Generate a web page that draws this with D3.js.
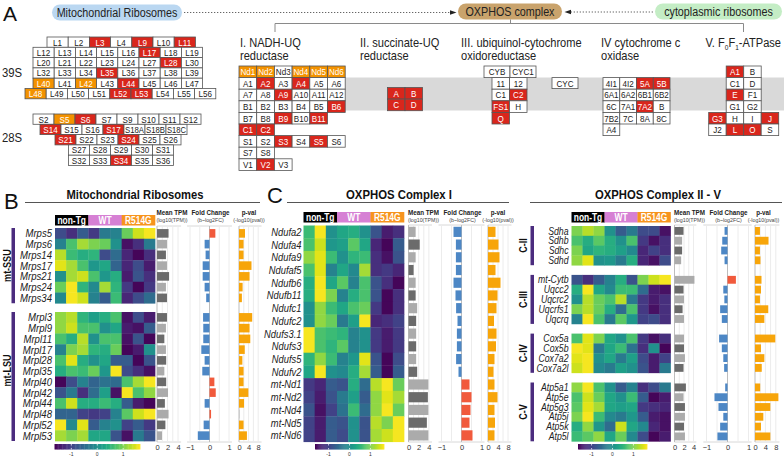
<!DOCTYPE html>
<html><head><meta charset="utf-8">
<script src="https://cdn.jsdelivr.net/npm/d3@7"></script>
<style>body{margin:0;background:#fff}svg{display:block}</style>
</head><body>
<script>
// ================= DATA =================
// Panel A: subunit grids
const ribo39S=[["L1","L2","L3","L4","L9","L10","L11"],["L12","L13","L14","L15","L16","L17","L18","L19"],["L20","L21","L22","L23","L24","L27","L28","L30"],["L32","L33","L34","L35","L36","L37","L38","L39"],["L40","L41","L42","L43","L44","L45","L46","L47"],["L48","L49","L50","L51","L52","L53","L54","L55","L56"]];
const red39S=["L3","L9","L11","L17","L28","L35","L44","L52","L53"];
const orange39S=["L40","L42","L48"];
const ribo28S=[["S2","S5","S6","S7","S9","S10","S11","S12"],["S14","S15","S16","S17","S18A","S18B","S18C"],["S21","S22","S23","S24","S25","S26"],["S27","S28","S29","S30","S31"],["S32","S33","S34","S35","S36"]];
const red28S=["S6","S14","S17","S21","S24","S34"];
const orange28S=["S5"];
const cx1=[["Nd1","Nd2","Nd3","Nd4","Nd5","Nd6"],["A1","A2","A3","A4","A5","A6"],["A7","A8","A9","A10","A11","A12"],["B1","B2","B3","B4","B5","B6"],["B7","B8","B9","B10","B11"],["C1","C2"],["S1","S2","S3","S4","S5","S6"],["S7","S8"],["V1","V2","V3"]];
const redCx1=["A2","A4","A9","B6","B9","B11","C1","C2","S3","S5","V2"];
const orangeCx1=["Nd1","Nd2","Nd4","Nd5","Nd6"];
const cx2=[["A","B"],["C","D"]];
const redCx2=["A","B","C","D"];
const cx3=[["CYB","CYC1"],["11","12"],["C1","C2"],["FS1","H"],["Q"]];
const redCx3=["C2","FS1","Q"];
const cycBox=[["CYC"]];
const cx4=[["4I1","4I2","5A","5B"],["6A1","6A2","6B1","6B2"],["6C","7A1","7A2","B"],["7B2","7C","8A","8C"],["A4"]];
const redCx4=["5A","5B","7A2"];
const cx5=[["A1","B"],["C1","D"],["E","F1"],["G1","G2"],["G3","H","I","J"],["J2","L","O","S"]];
const redCx5=["A1","E","G3","J","L","O"];

// Heatmap column groups and ticks
const conditions=["non-Tg","WT","R514G"];
const tpmTicks=[0,2,4], fcTicks=[-1,0,1], pTicks=[0,4,8], zTicks=[-1,0,1];

// Panel B
const ssuGenes=["Mrps5","Mrps6","Mrps14","Mrps17","Mrps21","Mrps24","Mrps34"];
const ssuZ=[[-0.9,-1.2,-0.7,-1.1,-0.3,-0.2,0.9,1.4,1.6],[-0.2,0.7,1.2,1.0,0.9,0.0,-1.5,-1.2,-0.3],[1.3,0.6,0.4,0.5,-0.9,-0.5,-1.3,-1.6,-1.2],[1.5,1.2,0.7,0.1,0.3,-0.6,-1.3,-0.9,-1.4],[0.0,1.2,1.4,0.7,0.1,0.4,-1.4,-0.8,-1.2],[0.9,1.6,0.5,-0.1,1.2,0.5,-1.1,-1.6,-1.1],[-0.1,1.6,1.4,-0.2,-0.7,0.6,-1.3,-0.9,-0.5]];
const ssuTPM=[2.2,1.9,1.7,1.9,2.3,1.7,1.9];
const ssuFC=[0.3,-0.25,-0.2,-0.35,-0.35,-0.25,-0.17];
const ssuP=[2.5,1.9,1.9,5.2,4.4,1.5,1.2];
const lsuGenes=["Mrpl3","Mrpl9","Mrpl11","Mrpl17","Mrpl28","Mrpl35","Mrpl40","Mrpl42","Mrpl44","Mrpl48","Mrpl52","Mrpl53"];
const lsuZ=[[1.1,1.3,0.5,0.2,0.4,0.7,-1.5,-0.9,-1.4],[1.1,1.4,0.7,0.7,0.0,0.3,-1.4,-1.5,-0.7],[0.7,0.4,1.3,0.0,0.7,0.7,-1.5,-0.8,-1.6],[-0.2,1.0,1.2,0.5,0.4,0.9,-1.6,-1.4,0.0],[0.7,1.5,0.4,0.0,0.3,-0.7,-0.7,-1.6,-0.8],[0.4,0.7,0.6,0.9,0.1,1.6,-0.9,-1.2,-1.5],[-1.6,-0.9,-0.2,-0.6,-0.4,-0.5,0.7,1.2,1.6],[-0.8,-0.3,-1.2,-0.5,0.2,-1.5,1.6,0.7,1.1],[0.7,1.4,0.4,0.4,0.6,0.4,-0.7,-1.4,-1.6],[-0.6,-0.6,-1.0,-1.1,-1.0,-0.2,0.8,1.4,1.6],[1.6,-0.1,1.5,-0.7,-0.2,0.0,-1.0,-0.7,-1.1],[1.2,1.0,1.2,0.3,0.3,-0.8,-1.5,-0.3,-0.8]];
const lsuTPM=[1.9,1.7,1.4,1.7,1.75,1.4,1.75,2.1,1.5,2.2,1.6,0.95];
const lsuFC=[-0.33,-0.32,-0.32,-0.42,-0.25,-0.37,0.25,0.32,-0.25,0.08,-0.3,-0.6];
const lsuP=[5.5,4.4,4.7,2.4,1.4,1.9,1.9,3.9,2.1,0.3,1.9,3.3];

// Panel C, complex I
const c1Genes=["Ndufa2","Ndufa4","Ndufa9","Ndufaf5","Ndufb6","Ndufb11","Ndufc1","Ndufc2","Ndufs3.1","Ndufs3","Ndufs5","Ndufv2","mt-Nd1","mt-Nd2","mt-Nd4","mt-Nd5","mt-Nd6"];
const c1Z=[[0.6,1.6,0.0,0.3,0.4,0.0,-0.8,-1.4,-1.2],[0.7,1.4,0.1,0.2,0.8,0.3,-1.3,-1.6,-0.7],[1.1,1.5,0.6,0.0,0.5,0.6,-1.2,-1.5,-0.8],[0.7,1.5,-0.2,0.3,-0.1,1.2,-1.2,-1.1,-1.3],[0.4,1.6,0.3,0.8,-0.2,0.7,-0.8,-1.2,-1.6],[0.4,1.6,1.0,-0.2,0.4,0.7,-0.8,-1.6,-1.2],[0.0,1.1,0.6,0.3,0.7,0.9,-1.1,-1.6,-1.2],[0.0,1.1,0.9,-0.3,0.2,1.6,-1.3,-1.2,-1.0],[1.6,0.7,0.6,0.5,-0.2,0.0,-1.1,-1.4,-1.1],[1.6,0.7,0.5,0.8,-0.2,0.0,-1.1,-1.4,-1.1],[0.5,1.1,0.6,-0.2,0.1,1.5,-0.8,-1.6,-0.9],[0.3,1.6,0.0,-0.1,0.4,1.2,-0.7,-1.6,-0.7],[-1.1,-1.3,-0.7,-0.8,0.4,-0.5,1.3,1.6,0.9],[-1.0,-1.4,-0.8,-0.3,0.2,-0.7,1.1,1.5,1.2],[-0.8,-1.5,-1.0,-0.4,0.6,-0.5,1.1,1.6,0.9],[-1.0,-1.4,-0.7,-0.8,0.0,-0.8,1.3,1.0,1.6],[-1.0,-1.4,-0.7,-0.9,0.0,-0.8,1.2,1.4,1.6]];
const c1TPM=[1.4,2.2,1.4,1.0,1.4,1.4,1.7,1.5,1.5,1.5,1.5,1.7,3.9,3.8,3.9,3.6,3.9];
const c1FC=[-0.4,-0.28,-0.28,-0.28,-0.4,-0.3,-0.27,-0.2,-0.23,-0.23,-0.27,-0.15,0.4,0.5,0.45,0.4,0.55];
const c1P=[3,4.2,4.6,3,5,3.8,3.4,2.4,3.4,3.2,2.6,2.2,2.6,3.8,2.6,2.8,2.6];

// Panel C, complexes II - V
const c2Genes=["Sdha","Sdhb","Sdhc","Sdhd"];
const c2Z=[[1.0,1.3,1.1,0.0,-0.7,-0.3,-0.9,-0.9,-1.5],[0.7,0.4,0.8,0.4,0.0,0.7,-1.1,-1.5,-1.2],[1.0,0.3,0.5,0.4,0.2,-0.1,-1.3,-1.0,-1.2],[1.1,1.5,0.0,0.1,-0.3,0.4,-1.3,-1.5,-0.9]];
const c2TPM=[1.9,1.6,1.6,1.4], c2FC=[-0.14,-0.25,-0.3,-0.14], c2P=[1.9,5.2,1.9,2.1];
const c3Genes=["mt-Cytb","Uqcc2","Uqcrc2","Uqcrfs1","Uqcrq"];
const c3Z=[[-0.8,-1.2,-0.7,-0.2,0.4,-0.8,1.0,1.4,1.6],[0.4,1.6,0.3,-0.1,0.6,0.6,-0.5,-1.4,-1.5],[0.0,1.3,0.9,0.7,1.3,-0.3,-1.1,-1.4,-1.2],[1.0,1.3,0.9,0.4,-0.5,0.7,-1.1,-1.5,-1.2],[-0.2,1.6,0.7,-0.3,0.8,0.1,-1.0,-0.9,-1.2]];
const c3TPM=[4.2,1.9,2.0,1.7,2.0], c3FC=[0.4,-0.2,-0.15,-0.35,-0.27], c3P=[2.5,2.3,1.9,5.1,3.6];
const c4Genes=["Cox5a","Cox5b","Cox7a2","Cox7a2l"];
const c4Z=[[0.7,1.5,1.0,0.3,0.0,0.7,-1.1,-1.5,-1.2],[1.6,1.5,-0.3,0.3,0.6,-0.4,-1.2,0.0,-1.6],[1.5,1.6,0.0,0.3,-0.3,0.2,-0.9,-1.4,-1.0],[1.4,1.6,-0.1,-0.3,0.2,0.0,-0.8,-1.4,-0.3]];
const c4TPM=[2.0,2.0,2.2,1.9], c4FC=[-0.4,-0.27,-0.2,-0.16], c4P=[7.8,2.3,3.6,2.6];
const c5Genes=["Atp5a1","Atp5e","Atp5g3","Atp5j","Atp5k","Atp5l"];
const c5Z=[[1.1,1.6,0.7,0.0,-0.7,-0.2,-1.2,-0.9,-0.3],[0.7,1.4,0.9,0.3,0.0,0.6,-0.7,-1.6,-1.4],[0.8,1.5,1.2,0.3,0.2,0.3,-1.1,-1.2,-1.3],[1.0,1.6,0.6,-0.1,-0.3,0.1,-0.7,-1.4,-1.5],[0.4,1.1,0.1,-0.5,1.4,0.3,-0.1,-1.3,-1.5],[0.6,0.8,1.1,0.3,0.9,-0.1,-0.9,-1.6,-1.4]];
const c5TPM=[2.4,1.9,2.2,2.2,2.0,2.2], c5FC=[-0.11,-0.62,-0.43,-0.2,-0.35,-0.48], c5P=[2.0,9.0,5.9,3.2,2.3,5.9];

// ================= DRAWING =================
const W=784,H=461;
const SANS="'Liberation Sans',Arial,sans-serif";
const RED="#d9261c", ORANGE="#f39200";
const svg=d3.select("body").append("svg").attr("width",W).attr("height",H).style("font-family",SANS);

// condense a text horizontally (imitates a narrow typeface)
function cond(t,f,maxW){
  const l=t.node().getComputedTextLength();
  let L=l*f; if(maxW&&L>maxW) L=maxW;
  return t.attr("textLength",L).attr("lengthAdjust","spacingAndGlyphs");
}

// ---------- Panel A ----------
svg.append("text").attr("x",3).attr("y",21).style("font-size","21px").attr("fill","#111").text("A");

function pill(x,y,w,h,fill,label){
  svg.append("rect").attr("x",x).attr("y",y).attr("width",w).attr("height",h).attr("rx",h/2).attr("fill",fill);
  cond(svg.append("text").attr("x",x+w/2).attr("y",y+h/2).attr("dy","0.36em").attr("text-anchor","middle")
    .style("font-size","12.5px").attr("fill","#222").text(label),0.86);
}
pill(52,4.5,130,16,"#bad7f1","Mitochondrial Ribosomes");
pill(458,3.5,104,16,"#c9a36c","OXPHOS complex");
pill(655,3.5,127,16,"#c4edc5","cytoplasmic ribosomes");
svg.append("line").attr("x1",184).attr("x2",450).attr("y1",12.5).attr("y2",12.5).attr("stroke","#666").attr("stroke-dasharray","1.3,1.7");
svg.append("path").attr("d","M450,10.2L456.5,12.5L450,14.8Z").attr("fill","#222");
svg.append("line").attr("x1",653).attr("x2",571).attr("y1",12).attr("y2",12).attr("stroke","#666").attr("stroke-dasharray","1.3,1.7");
svg.append("path").attr("d","M571,9.7L564.5,12L571,14.3Z").attr("fill","#222");
svg.append("path").attr("d","M510.5,19.5V23.5M275,32V23.5H743.5V32").attr("fill","none").attr("stroke","#8a8a8a").attr("stroke-width",1);

svg.append("rect").attr("x",345).attr("y",77.5).attr("width",W-345).attr("height",33).attr("fill","#d9d9d9");

const titles=[{x:240,l:["I. NADH-UQ","reductase"]},{x:360,l:["II. succinate-UQ","reductase"]},{x:461,l:["III. ubiquinol-cytochrome","oxidoreductase"]},{x:601,l:["IV cytochrome c","oxidase"]}];
titles.forEach(t=>t.l.forEach((s,i)=>cond(svg.append("text").attr("x",t.x).attr("y",46.5+i*13.5).style("font-size","13.5px").attr("fill","#222").text(s),0.82)));
const t5=svg.append("text").attr("transform","translate(705.5,46.5) scale(0.82,1)").style("font-size","13.5px").attr("fill","#222");
t5.append("tspan").text("V. F");
t5.append("tspan").attr("dy",3).style("font-size","8px").text("0");
t5.append("tspan").attr("dy",-3).text("F");
t5.append("tspan").attr("dy",3).style("font-size","8px").text("1");
t5.append("tspan").attr("dy",-3).text("-ATPase");

function grid(rows,reds,oranges,o){
  const y=d3.scaleLinear().domain([0,1]).range([o.y0,o.y0+o.rh]);
  const g=svg.append("g");
  rows.forEach((row,i)=>{
    const cw=typeof o.cw==="function"?o.cw(i):o.cw;
    const x0=typeof o.x0==="function"?o.x0(i):o.x0;
    const x=d3.scaleLinear().domain([0,1]).range([x0,x0+cw]);
    row.forEach((lab,j)=>{
      const f=reds.includes(lab)?RED:(oranges.includes(lab)?ORANGE:"#fff");
      g.append("rect").attr("x",x(j)).attr("y",y(i)).attr("width",cw).attr("height",o.rh)
        .attr("fill",f).attr("stroke","#555").attr("stroke-width",0.8);
      cond(g.append("text").attr("x",x(j)+cw/2).attr("y",y(i)+o.rh/2).attr("dy","0.36em").attr("text-anchor","middle")
        .style("font-size",(o.fs||9.5)+"px").attr("fill",f==="#fff"?"#222":"#fff").text(lab),0.85,cw-2);
    });
  });
}
const x39=[47,33,33,33,33,25], x28=[33,40,55,68.5,68.5];
grid(ribo39S,red39S,orange39S,{y0:37,rh:10.3,x0:i=>x39[i],cw:21.2});
grid(ribo28S,red28S,orange28S,{y0:114,rh:10.3,x0:i=>x28[i],cw:21});
cond(svg.append("text").attr("x",2).attr("y",72).attr("dy","0.36em").style("font-size","13px").attr("fill","#222").text("39S"),0.87);
cond(svg.append("text").attr("x",2).attr("y",137).attr("dy","0.36em").style("font-size","13px").attr("fill","#222").text("28S"),0.87);
grid(cx1,redCx1,orangeCx1,{y0:66,rh:11.6,x0:239,cw:17.7});
grid(cx2,redCx2,[],{y0:87.5,rh:11.6,x0:387.5,cw:17.5});
grid(cx3,redCx3,[],{y0:66,rh:11.6,x0:i=>i===0?484:492,cw:i=>i===0?26:17.5});
grid(cycBox,[],[],{y0:77.6,rh:11,x0:552,cw:26});
grid(cx4,redCx4,[],{y0:77.6,rh:11.6,x0:603,cw:16.75,fs:9.5});
grid(cx5,redCx5,[],{y0:66,rh:11.6,x0:i=>i>=4?708.7:726.2,cw:17.5});

// ---------- Panels B & C ----------
const zDomain=[-1.65,1.65];
const cscale=d3.scaleSequential(d3.interpolateViridis).domain(zDomain);

function sectionTitle(x1,x2,cx,w,label){
  svg.append("text").attr("x",cx).attr("y",199).attr("text-anchor","middle").style("font-size","12.5px").style("font-weight","bold").attr("fill","#111")
    .text(label).attr("textLength",w).attr("lengthAdjust","spacingAndGlyphs");
  svg.append("line").attr("x1",x1).attr("x2",x2).attr("y1",202.5).attr("y2",202.5).attr("stroke","#555").attr("stroke-width",1);
}
svg.append("text").attr("x",4).attr("y",209).style("font-size","22px").attr("fill","#111").text("B");
svg.append("text").attr("x",267).attr("y",203).style("font-size","22px").attr("fill","#111").text("C");
sectionTitle(25,260,135,137,"Mitochondrial Ribosomes");
sectionTitle(287,509,399,106,"OXPHOS Complex I");
sectionTitle(530,782,658,126,"OXPHOS Complex II - V");

function heatPanel(cfg){
  const g=svg.append("g");
  const x=d3.scaleBand().domain(d3.range(9)).range([cfg.hx0,cfg.hx1]);
  const cnd=d3.scaleBand().domain(conditions).range([cfg.hx0,cfg.hx1]);
  const condCol={"non-Tg":"#000","WT":"#d680d4","R514G":"#f7941d"};
  conditions.forEach(c=>{
    g.append("rect").attr("x",cnd(c)).attr("y",cfg.hy).attr("width",cnd.bandwidth()+0.3).attr("height",10.5).attr("fill",condCol[c]);
    cond(g.append("text").attr("x",cnd(c)+cnd.bandwidth()/2).attr("y",cfg.hy+5.4).attr("dy","0.36em").attr("text-anchor","middle")
      .style("font-size","10px").style("font-weight","bold").attr("fill","#fff").text(c),0.84);
  });
  const tpm=d3.scaleLinear().domain([0,4]).range([cfg.t0,cfg.t0+4*cfg.tk]);
  const fc=d3.scaleLinear().domain([-1,1]).range([cfg.f0-cfg.fk,cfg.f0+cfg.fk]);
  const pv=d3.scaleLinear().domain([0,8]).range([cfg.p0,cfg.p0+8*cfg.pk]);
  const top=cfg.ptop, bot=cfg.pbot;
  const frames=[{s:tpm,ext:[0,4.6],grid:[1,2,3,4],ticks:tpmTicks},{s:fc,ext:[-1.15,1.15],grid:[-1,-0.5,0.5,1],ticks:fcTicks},{s:pv,ext:[0,9.4],grid:[2,4,6,8],ticks:pTicks}];
  frames.forEach(fr=>{
    const [a,b]=fr.ext.map(fr.s);
    g.append("line").attr("x1",a).attr("x2",b).attr("y1",top).attr("y2",top).attr("stroke","#d8d8d8");
    g.append("line").attr("x1",a).attr("x2",b).attr("y1",bot).attr("y2",bot).attr("stroke","#d8d8d8");
    fr.grid.forEach(v=>g.append("line").attr("x1",fr.s(v)).attr("x2",fr.s(v)).attr("y1",top).attr("y2",bot).attr("stroke","#ececec"));
    g.append("line").attr("x1",fr.s(0)).attr("x2",fr.s(0)).attr("y1",top).attr("y2",bot).attr("stroke","#bdbdbd");
    const ax=d3.axisBottom(fr.s).tickValues(fr.ticks).tickSize(0).tickPadding(2.5).tickFormat(d3.format("d"));
    const ag=g.append("g").attr("transform",`translate(0,${bot+0.5})`).call(ax);
    ag.select(".domain").remove();
    ag.selectAll("text").style("font-family",SANS).style("font-size","7.5px").attr("fill","#333");
  });
  const hdr=(cx,t1,t2)=>{
    cond(g.append("text").attr("x",cx).attr("y",215.3).attr("text-anchor","middle").style("font-size","7.3px").style("font-weight","bold").attr("fill","#222").text(t1),0.86);
    cond(g.append("text").attr("x",cx).attr("y",222.3).attr("text-anchor","middle").style("font-size","6px").attr("fill","#444").text(t2),0.88);
  };
  hdr(cfg.t0+15,"Mean TPM","(log10(TPM))");
  hdr(cfg.f0+1,"Fold Change","(b~log2FC)");
  hdr(cfg.p0+cfg.pho,"p-val","(-log10(pval))");

  cfg.groups.forEach(gr=>{
    const y=d3.scaleBand().domain(gr.genes).range([gr.y0,gr.y0+gr.genes.length*cfg.rh]);
    const bh=y.bandwidth()*0.8, bo=y.bandwidth()*0.1;
    gr.genes.forEach((gene,i)=>{
      gr.z[i].forEach((v,j)=>{
        g.append("rect").attr("x",x(j)).attr("y",y(gene)).attr("width",x.bandwidth()+0.35).attr("height",y.bandwidth()+0.35).attr("fill",cscale(v));
      });
      cond(g.append("text").attr("x",cfg.lx).attr("y",y(gene)+y.bandwidth()/2).attr("dy","0.36em").attr("text-anchor","end")
        .style("font-style","italic").style("font-size",cfg.lfs+"px").attr("fill","#222").text(gene),cfg.lc);
      g.append("rect").attr("x",tpm(0)).attr("y",y(gene)+bo).attr("width",tpm(gr.tpm[i])-tpm(0)).attr("height",bh)
        .attr("fill",(i+gr.shade)%2===0?"#6b6b6b":"#ababab");
      const v=gr.fc[i];
      g.append("rect").attr("x",Math.min(fc(0),fc(v))).attr("y",y(gene)+bo).attr("width",Math.abs(fc(v)-fc(0))).attr("height",bh)
        .attr("fill",v<0?"#4d87c5":"#f15a3c");
      g.append("rect").attr("x",pv(0)).attr("y",y(gene)+bo).attr("width",pv(gr.p[i])-pv(0)).attr("height",bh)
        .attr("fill",gr.p[i]<1?"#c8c8c8":"#f7a50a");
    });
    if(gr.label){
      const y0=gr.y0, y1=gr.y0+gr.genes.length*cfg.rh;
      g.append("rect").attr("x",cfg.gbx).attr("y",y0).attr("width",3.5).attr("height",y1-y0).attr("fill","#4b2c7e");
      cond(g.append("text").attr("transform",`translate(${cfg.glx},${(y0+y1)/2+(gr.loff||0)}) rotate(-90)`).attr("dy","0.36em").attr("text-anchor","middle")
        .style("font-size","10px").style("font-weight","bold").attr("fill","#111").text(gr.label),0.9);
    }
  });
  const cb=d3.scaleLinear().domain(zDomain).range([cfg.cb0,cfg.cb1]);
  const steps=d3.range(zDomain[0],zDomain[1],0.05);
  g.selectAll(null).data(steps).join("rect").attr("x",d=>cb(d)).attr("y",444).attr("width",cb(0.05)-cb(0)+0.4).attr("height",5.5).attr("fill",d=>cscale(d+0.025));
  zTicks.forEach(t=>{
    g.append("line").attr("x1",cb(t)).attr("x2",cb(t)).attr("y1",444).attr("y2",445.5).attr("stroke","#fff").attr("stroke-width",0.7);
    g.append("line").attr("x1",cb(t)).attr("x2",cb(t)).attr("y1",448).attr("y2",449.5).attr("stroke","#fff").attr("stroke-width",0.7);
    g.append("text").attr("x",cb(t)).attr("y",456).attr("text-anchor","middle").style("font-size","5px").attr("fill","#333").text(t);
  });
}

heatPanel({hx0:55,hx1:155,hy:215,rh:10.75,lx:52,lfs:11,lc:0.87,
  t0:157,tk:5.25,f0:209.5,fk:19.5,p0:239,pk:2.4,pho:10,ptop:226,pbot:442,
  gbx:11.5,glx:7,cb0:54.5,cb1:140,
  groups:[{genes:ssuGenes,z:ssuZ,tpm:ssuTPM,fc:ssuFC,p:ssuP,y0:228,shade:0,label:"mt-SSU"},
          {genes:lsuGenes,z:lsuZ,tpm:lsuTPM,fc:lsuFC,p:lsuP,y0:312,shade:0,label:"mt-LSU",loff:-6}]});
heatPanel({hx0:303.5,hx1:404,hy:212,rh:12.72,lx:301.5,lfs:11,lc:0.85,
  t0:408.5,tk:5.1,f0:461.5,fk:20,p0:488,pk:2.5,pho:10,ptop:225,pbot:442,
  cb0:315,cb1:384,
  groups:[{genes:c1Genes,z:c1Z,tpm:c1TPM,fc:c1FC,p:c1P,y0:225.5,shade:1}]});
heatPanel({hx0:571.5,hx1:670.5,hy:212,rh:9.8,lx:568.5,lfs:10,lc:0.87,
  t0:674.5,tk:4.75,f0:727.5,fk:21,p0:755,pk:2.6,pho:8.5,ptop:225,pbot:442,
  gbx:530.5,glx:523.5,cb0:578,cb1:647,
  groups:[{genes:c2Genes,z:c2Z,tpm:c2TPM,fc:c2FC,p:c2P,y0:226,shade:0,label:"C-II"},
          {genes:c3Genes,z:c3Z,tpm:c3TPM,fc:c3FC,p:c3P,y0:274.9,shade:1,label:"C-III"},
          {genes:c4Genes,z:c4Z,tpm:c4TPM,fc:c4FC,p:c4P,y0:333.6,shade:1,label:"C-IV"},
          {genes:c5Genes,z:c5Z,tpm:c5TPM,fc:c5FC,p:c5P,y0:382.5,shade:0,label:"C-V"}]});
</script>
</body></html>
